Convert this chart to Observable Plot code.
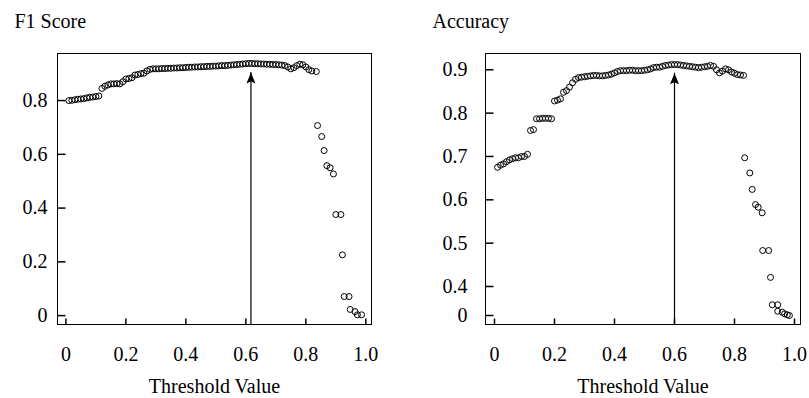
<!DOCTYPE html>
<html>
<head>
<meta charset="utf-8">
<script src="https://cdn.jsdelivr.net/npm/d3@7"></script>
<script src="https://cdn.jsdelivr.net/npm/@observablehq/plot@0.6"></script>
<style>
  body { margin: 0; background: #fff; }
  #wrap { position: relative; width: 809px; height: 398px; background: #fff; }
  .panel { position: absolute; top: 0; }
</style>
</head>
<body>
<div id="wrap"></div>
<script>
// ---------- data ----------
const xTicks = [0, 0.2, 0.4, 0.6, 0.8, 1.0];
const xTickLabels = ["0", "0.2", "0.4", "0.6", "0.8", "1.0"];

const f1Ticks = [0, 0.2, 0.4, 0.6, 0.8];
const f1TickLabels = ["0", "0.2", "0.4", "0.6", "0.8"];
const accTicks = [0, 0.4, 0.5, 0.6, 0.7, 0.8, 0.9];
const accTickLabels = ["0", "0.4", "0.5", "0.6", "0.7", "0.8", "0.9"];

const f1Thresholds = [
  0.01,0.02,0.03,0.04,0.05,0.06,0.07,0.08,0.09,0.10,
  0.11,0.12,0.13,0.14,0.15,0.16,0.17,0.18,0.19,0.20,
  0.21,0.22,0.23,0.24,0.25,0.26,0.27,0.28,0.29,0.30,
  0.31,0.32,0.33,0.34,0.35,0.36,0.37,0.38,0.39,0.40,
  0.41,0.42,0.43,0.44,0.45,0.46,0.47,0.48,0.49,0.50,
  0.51,0.52,0.53,0.54,0.55,0.56,0.57,0.58,0.59,0.60,
  0.61,0.62,0.63,0.64,0.65,0.66,0.67,0.68,0.69,0.70,
  0.71,0.72,0.73,0.74,0.75,0.76,0.77,0.78,0.79,0.80,
  0.81,0.82,0.835,
  0.839,0.853,0.861,0.870,0.881,0.892,0.900,0.917,0.922,0.928,0.944,0.948,0.964,0.972,0.986
];
const f1Scores = [
  0.800,0.801,0.803,0.805,0.806,0.807,0.810,0.812,0.813,0.815,
  0.817,0.845,0.853,0.858,0.862,0.862,0.863,0.862,0.870,0.880,
  0.882,0.885,0.895,0.897,0.900,0.902,0.910,0.916,0.918,0.918,
  0.918,0.919,0.919,0.920,0.920,0.921,0.921,0.922,0.922,0.923,
  0.924,0.924,0.925,0.925,0.926,0.926,0.927,0.927,0.928,0.928,
  0.929,0.930,0.930,0.931,0.932,0.933,0.934,0.935,0.936,0.937,
  0.938,0.938,0.937,0.937,0.936,0.936,0.935,0.935,0.934,0.934,
  0.933,0.932,0.930,0.925,0.918,0.922,0.930,0.935,0.933,0.925,
  0.915,0.910,0.908,
  0.707,0.666,0.614,0.558,0.550,0.527,0.376,0.376,0.226,0.071,0.071,0.023,0.015,0.003,0.003
];

const accThresholds = [
  0.01,0.02,0.03,0.04,0.05,0.06,0.07,0.08,0.09,0.10,
  0.11,0.12,0.13,0.14,0.15,0.16,0.17,0.18,0.19,0.20,
  0.21,0.22,0.23,0.24,0.25,0.26,0.27,0.28,0.29,0.30,
  0.31,0.32,0.33,0.34,0.35,0.36,0.37,0.38,0.39,0.40,
  0.41,0.42,0.43,0.44,0.45,0.46,0.47,0.48,0.49,0.50,
  0.51,0.52,0.53,0.54,0.55,0.56,0.57,0.58,0.59,0.60,
  0.61,0.62,0.63,0.64,0.65,0.66,0.67,0.68,0.69,0.70,
  0.71,0.72,0.73,0.74,0.75,0.76,0.77,0.78,0.79,0.80,
  0.81,0.82,0.83,
  0.834,0.851,0.859,0.870,0.879,0.892,0.894,0.914,0.920,0.926,0.944,0.944,0.959,0.967,0.976,0.983
];
const accValues = [
  0.675,0.680,0.683,0.688,0.692,0.695,0.697,0.697,0.700,0.700,
  0.705,0.760,0.762,0.787,0.787,0.788,0.788,0.788,0.787,0.828,
  0.830,0.833,0.848,0.852,0.860,0.870,0.878,0.882,0.883,0.884,
  0.885,0.886,0.887,0.887,0.886,0.886,0.887,0.888,0.890,0.893,
  0.896,0.898,0.898,0.898,0.899,0.899,0.898,0.898,0.898,0.899,
  0.900,0.902,0.905,0.906,0.906,0.908,0.910,0.911,0.912,0.912,
  0.912,0.911,0.910,0.909,0.908,0.907,0.906,0.905,0.906,0.907,
  0.908,0.910,0.908,0.900,0.893,0.897,0.902,0.900,0.895,0.892,
  0.889,0.888,0.887,
  0.697,0.662,0.624,0.589,0.583,0.570,0.483,0.483,0.421,0.148,0.148,0.059,0.046,0.023,0.010,0.000
];

// optimal thresholds marked by arrows
const f1Best = [{t: 0.617, tip: 0.904}];
const accBest = [{t: 0.600, tip: 0.892}];

// ---------- drawing ----------
const font = "'Liberation Serif', 'Times New Roman', serif";
const tickRight = {draw(c) { c.moveTo(0, 0); c.lineTo(8, 0); }};
const tickUp = {draw(c) { c.moveTo(0, 0); c.lineTo(0, -6); }};
const arrowHead = {draw(c) { c.moveTo(0, 0); c.lineTo(4.5, 11); c.lineTo(0, 9); c.lineTo(-4.5, 11); c.closePath(); }};

function panel(o) {
  const pts = o.thr.map((t, i) => ({t, v: o.val[i]}));
  const yMin = o.y.domain[0];
  return Plot.plot({
    width: o.width, height: 398,
    marginLeft: o.marginLeft, marginRight: o.marginRight, marginTop: 53, marginBottom: 74,
    style: {fontFamily: font, fontSize: "20px", background: "white", color: "black", overflow: "visible"},
    x: {domain: o.xDomain},
    y: o.y,
    marks: [
      Plot.frame({stroke: "black", strokeWidth: 1}),
      Plot.dot(o.yTicks, {y: d => d, frameAnchor: "left", symbol: tickRight, stroke: "black", fill: "none"}),
      Plot.dot(xTicks, {x: d => d, frameAnchor: "bottom", symbol: tickUp, stroke: "black", fill: "none"}),
      Plot.axisY(o.yTicks, {tickSize: 0, tickPadding: o.yPad, label: null, tickFormat: (d, i) => o.yLabels[o.yTicks.indexOf(d)], fontSize: 20}),
      Plot.axisX(xTicks, {tickSize: 0, tickPadding: 22, label: null, tickFormat: d => xTickLabels[xTicks.indexOf(d)], fontSize: 20}),
      Plot.text(["Threshold Value"], {frameAnchor: "bottom", lineAnchor: "top", dy: 54, fontSize: 20}),
      Plot.text([o.title], {frameAnchor: "top-left", textAnchor: "start", lineAnchor: "top", dx: o.titleDx, dy: -40, fontSize: 20}),
      Plot.ruleX(o.best, {x: "t", y1: () => yMin, y2: "tip", stroke: "black", strokeWidth: 1.2}),
      Plot.dot(o.best, {x: "t", y: "tip", symbol: arrowHead, fill: "black", stroke: "none"}),
      Plot.dot(pts, {x: "t", y: "v", r: 3, stroke: "black", fill: "none", strokeWidth: 1})
    ]
  });
}

const wrap = document.getElementById("wrap");

const left = panel({
  title: "F1 Score", thr: f1Thresholds, val: f1Scores, best: f1Best,
  width: 404, marginLeft: 57, marginRight: 33,
  xDomain: [-0.028, 1.019],
  y: {domain: [-0.033, 0.975]},
  yTicks: f1Ticks, yLabels: f1TickLabels, yPad: 10, titleDx: -43
});
left.classList.add("panel");
left.style.left = "0px";
wrap.appendChild(left);

const right = panel({
  title: "Accuracy", thr: accThresholds, val: accValues, best: accBest,
  width: 405, marginLeft: 81, marginRight: 9,
  xDomain: [-0.03, 1.02],
  y: {type: "linear", domain: [-0.124, 0, 0.4, 0.9376], range: [324, 315, 286, 53]},
  yTicks: accTicks, yLabels: accTickLabels, yPad: 18, titleDx: -53
});
right.classList.add("panel");
right.style.left = "404px";
wrap.appendChild(right);
</script>
</body>
</html>
